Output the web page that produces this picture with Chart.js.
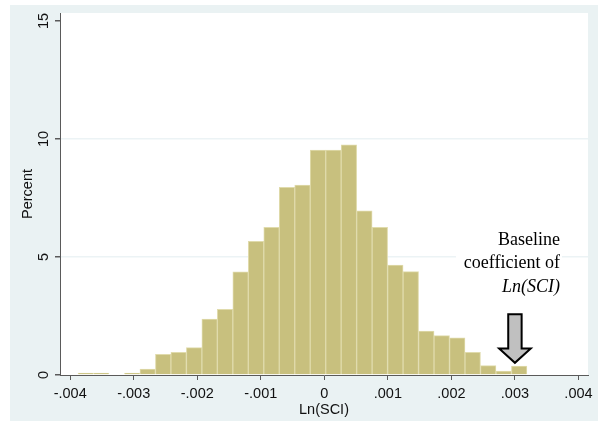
<!DOCTYPE html>
<html>
<head>
<meta charset="utf-8">
<script src="https://cdn.jsdelivr.net/npm/chart.js@4"></script>
<style>
html,body{margin:0;padding:0;background:#fff;}
canvas{display:block;}
</style>
</head>
<body>
<canvas id="c" width="598" height="421"></canvas>
<script>
// Histogram of Ln(SCI) coefficients (percent per bin)
const binStart = -0.003876;
const binWidth = 0.0002436;
const percents = [0.08, 0.08, 0, 0.08, 0.25, 0.88, 0.96, 1.16, 2.37, 2.78,
                  4.37, 5.66, 6.26, 7.95, 8.05, 9.53, 9.53, 9.75, 6.96, 6.26,
                  4.66, 4.38, 1.86, 1.67, 1.58, 0.96, 0.40, 0.17, 0.38];
const xTicks = [-0.004, -0.003, -0.002, -0.001, 0, 0.001, 0.002, 0.003, 0.004];
const xTickLabels = ['-.004', '-.003', '-.002', '-.001', '0', '.001', '.002', '.003', '.004'];
const yTicks = [0, 5, 10, 15];
const yGridValues = [5, 10];
const baselineCoef = 0.003;
const annotationLines = ['Baseline', 'coefficient of', 'Ln(SCI)'];

const points = percents.map((v, i) => ({ x: binStart + (i + 0.5) * binWidth, y: v }));

const BG = 'rgb(234,242,243)';
const AXIS = '#5a5a5a';

const backgroundPlugin = {
  id: 'bg',
  beforeDraw(chart) {
    const { ctx, chartArea: a } = chart;
    ctx.save();
    ctx.fillStyle = '#fff';
    ctx.fillRect(0, 0, chart.width, chart.height);
    ctx.fillStyle = BG;
    ctx.fillRect(10, 5, chart.width - 10, chart.height - 5);
    ctx.fillStyle = '#fff';
    ctx.fillRect(a.left, a.top, a.right - a.left, a.bottom - a.top);
    ctx.restore();
  },
  beforeDatasetsDraw(chart) {
    // white box behind the annotation text
    const { ctx } = chart;
    const xr = chart.scales.x.getPixelForValue(baselineCoef) + 45;
    ctx.save();
    ctx.fillStyle = '#fff';
    ctx.fillRect(xr - 104, 228, 106, 70);
    ctx.restore();
  },
  afterDatasetsDraw(chart) {
    const { ctx } = chart;
    const cx = chart.scales.x.getPixelForValue(baselineCoef);
    const top = 314.3, headY = 348.5, tip = 362.8, sw = 6.7, hw = 15.8;
    ctx.save();
    ctx.beginPath();
    ctx.moveTo(cx - sw, top);
    ctx.lineTo(cx + sw, top);
    ctx.lineTo(cx + sw, headY);
    ctx.lineTo(cx + hw, headY);
    ctx.lineTo(cx, tip);
    ctx.lineTo(cx - hw, headY);
    ctx.lineTo(cx - sw, headY);
    ctx.closePath();
    ctx.fillStyle = '#c0c0c0';
    ctx.fill();
    ctx.lineWidth = 2;
    ctx.lineJoin = 'miter';
    ctx.strokeStyle = '#000';
    ctx.stroke();

    // annotation text
    const xr = cx + 45;
    ctx.fillStyle = '#000';
    ctx.textAlign = 'right';
    ctx.textBaseline = 'alphabetic';
    ctx.font = '18px "Liberation Serif", "Times New Roman", serif';
    ctx.fillText(annotationLines[0], xr, 245);
    ctx.fillText(annotationLines[1], xr, 268.3);
    ctx.font = 'italic 18px "Liberation Serif", "Times New Roman", serif';
    ctx.fillText(annotationLines[2], xr, 291.7);
    ctx.restore();
  }
};

const FONT = { family: '"Liberation Sans", Arial, sans-serif', size: 14.5 };

new Chart(document.getElementById('c'), {
  type: 'bar',
  data: {
    datasets: [{
      data: points,
      backgroundColor: 'rgb(200,192,126)',
      borderColor: 'rgb(224,219,172)',
      borderWidth: 1,
      barPercentage: 1,
      categoryPercentage: 1
    }]
  },
  options: {
    responsive: false,
    devicePixelRatio: 1,
    animation: false,
    layout: { padding: { left: 0, right: 10, top: 13, bottom: 0 } },
    plugins: { legend: { display: false }, tooltip: { enabled: false } },
    scales: {
      x: {
        type: 'linear',
        offset: false,
        min: -0.00416,
        max: 0.00415,
        afterBuildTicks: s => { s.ticks = xTicks.map(v => ({ value: v })); },
        afterFit: s => { s.height = 46; },
        grid: { offset: false, drawOnChartArea: false, drawTicks: true, tickLength: 5, tickColor: AXIS, color: AXIS },
        border: { display: true, color: AXIS, width: 1 },
        ticks: {
          font: FONT, color: '#111', padding: 5, maxRotation: 0, minRotation: 0, autoSkip: false,
          callback: v => { const i = xTicks.findIndex(t => Math.abs(t - v) < 1e-9); return i >= 0 ? xTickLabels[i] : ''; }
        },
        title: { display: true, text: 'Ln(SCI)', font: FONT, color: '#111', padding: { top: 0, bottom: 2 } }
      },
      y: {
        type: 'linear',
        min: 0,
        max: 15.34,
        afterBuildTicks: s => { s.ticks = yTicks.map(v => ({ value: v })); },
        afterFit: s => { s.width = 60; },
        grid: {
          drawTicks: true, tickLength: 5, tickColor: AXIS, lineWidth: 1.5,
          color: c => (c.tick && yGridValues.includes(c.tick.value)) ? 'rgb(236,243,245)' : 'rgba(0,0,0,0)'
        },
        border: { display: true, color: AXIS, width: 1 },
        ticks: {
          font: FONT, color: '#111', padding: 3.4, minRotation: 90, maxRotation: 90, crossAlign: 'center', autoSkip: false,
          callback: v => String(v)
        },
        title: { display: true, text: 'Percent', font: FONT, color: '#111', padding: { top: 18.8, bottom: 0 } }
      }
    }
  },
  plugins: [backgroundPlugin]
});
</script>
</body>
</html>
